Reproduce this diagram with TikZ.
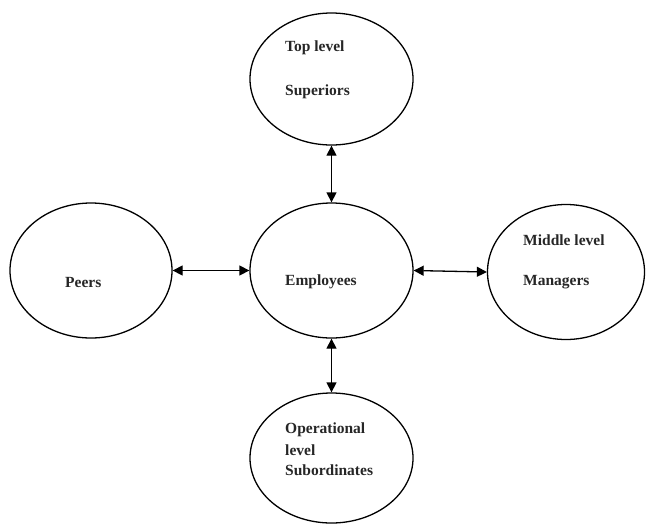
\documentclass[tikz,border=0pt]{standalone}
\usepackage{fontspec}
\setmainfont{Liberation Serif}
\usetikzlibrary{shapes.geometric,arrows.meta}
\begin{document}
\begin{tikzpicture}[x=1pt,y=-1pt,
  oval/.style={draw=black,line width=1.3pt,ellipse,inner sep=0pt},
  lbl/.style={anchor=west,inner sep=0pt,font=\fontsize{15.5}{18}\selectfont\bfseries,text=black!85},
  link/.style={line width=1.3pt,{Triangle[length=10pt,width=10pt]}-{Triangle[length=10pt,width=10pt]}}]
\useasboundingbox (0,0) rectangle (647,523);
\node[oval,minimum width=163pt,minimum height=132pt] (top) at (331.5,79) {};
\node[oval,minimum width=163pt,minimum height=135pt] (emp) at (331.5,270.5) {};
\node[oval,minimum width=162pt,minimum height=135pt] (peer) at (91,270.5) {};
\node[oval,minimum width=157pt,minimum height=135pt] (mid) at (566,272) {};
\node[oval,minimum width=163pt,minimum height=130pt] (bot) at (331.5,458) {};
\node[lbl] (t1) at (285,48) {Top level};
\node[lbl] (t2) at (285,92) {Superiors};
\node[lbl] (e1) at (285,282) {Employees};
\node[lbl] (p1) at (65,282) {Peers};
\node[lbl] (m1) at (523,240) {Middle level};
\node[lbl] (m2) at (523,282) {Managers};
\node[lbl] (b1) at (285,430) {Operational};
\node[lbl] (b2) at (285,450) {level};
\node[lbl] (b3) at (285,470) {Subordinates};
\draw[link] (top.south) -- (emp.north);
\draw[link] (emp.south) -- (bot.north);
\draw[link] (peer.east) -- (emp.west);
\draw[link] (emp.east) -- (mid.west);
\end{tikzpicture}
\end{document}
